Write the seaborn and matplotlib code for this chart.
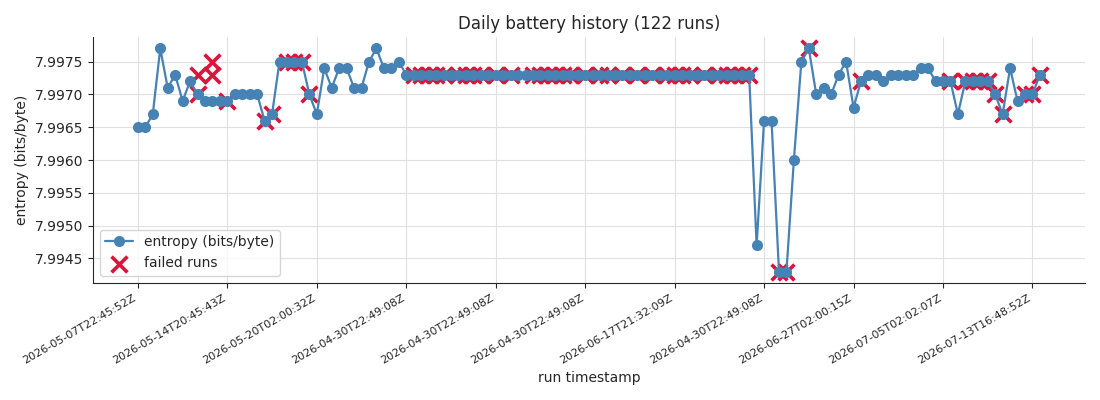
import numpy as np
import seaborn as sns
import matplotlib
matplotlib.use("Agg")
import matplotlib.pyplot as plt

# entropy per run (122 runs)
entropy = (
    [7.9965, 7.9965, 7.9967, 7.9977, 7.9971, 7.9973, 7.9969, 7.9972, 7.9970, 7.9969,
     7.9969, 7.9969, 7.9969, 7.9970, 7.9970, 7.9970, 7.9970, 7.9966, 7.9967, 7.9975,
     7.9975, 7.9975, 7.9975, 7.9970, 7.9967, 7.9974, 7.9971, 7.9974, 7.9974, 7.9971,
     7.9971, 7.9975, 7.9977, 7.9974, 7.9974, 7.9975]
    + [7.9973] * 47
    + [7.9947, 7.9966, 7.9966, 7.9943, 7.9943, 7.9960, 7.9975, 7.9977, 7.9970, 7.9971,
       7.9970, 7.9973, 7.9975, 7.9968, 7.9972, 7.9973, 7.9973, 7.9972, 7.9973, 7.9973,
       7.9973, 7.9973, 7.9974, 7.9974, 7.9972, 7.9972, 7.9972, 7.9967, 7.9972, 7.9972,
       7.9972, 7.9972, 7.9970, 7.9967, 7.9974, 7.9969, 7.9970, 7.9970, 7.9973]
)
run_idx = np.arange(len(entropy))

# failed runs (position, value)
failed_idx = [8, 8, 10, 10, 12, 17, 18, 20, 21, 22, 23,
              37, 38, 39, 40, 41, 43, 44, 45, 46, 48, 50, 53, 54, 55, 56, 57, 58,
              60, 62, 63, 65, 67, 69, 71, 72, 73, 74, 76, 78, 79, 80, 81, 82,
              86, 87, 90, 97, 109, 111, 112, 113, 114, 115, 116, 119, 120, 121]
failed_val = [7.9970, 7.9973, 7.9975, 7.9973, 7.9969, 7.9966, 7.9967, 7.9975, 7.9975, 7.9975, 7.9970] \
    + [7.9973] * 33 \
    + [7.9943, 7.9943, 7.9977, 7.9972, 7.9972, 7.9972, 7.9972, 7.9972, 7.9972, 7.9970, 7.9967,
       7.9970, 7.9970, 7.9973]

tick_pos = list(range(0, 122, 12))
tick_labels = ["2026-05-07T22:45:52Z", "2026-05-14T20:45:43Z", "2026-05-20T02:00:32Z",
               "2026-04-30T22:49:08Z", "2026-04-30T22:49:08Z", "2026-04-30T22:49:08Z",
               "2026-06-17T21:32:09Z", "2026-04-30T22:49:08Z", "2026-06-27T02:00:15Z",
               "2026-07-05T02:02:07Z", "2026-07-13T16:48:52Z"]

sns.set_style("ticks")
fig, ax = plt.subplots(figsize=(11, 4), dpi=100)

sns.lineplot(x=run_idx, y=entropy, ax=ax, color="steelblue", marker="o",
             markersize=8, markeredgewidth=0, linewidth=1.6,
             label="entropy (bits/byte)", zorder=3)
sns.scatterplot(x=failed_idx, y=failed_val, ax=ax, marker="x", s=130,
                color="crimson", linewidth=2.6, label="failed runs", zorder=2)

ax.set_xticks(tick_pos)
ax.set_xticklabels(tick_labels, rotation=30, ha="right", fontsize=8)
ax.set_xlabel("run timestamp")
ax.set_ylabel("entropy (bits/byte)")
ax.set_title("Daily battery history (122 runs)")
ax.grid(True, color="#e0e0e0", linewidth=0.8)
ax.set_axisbelow(True)
sns.despine(ax=ax)
ax.legend(loc="lower left")

plt.tight_layout()
plt.savefig("out.png", dpi=100)
